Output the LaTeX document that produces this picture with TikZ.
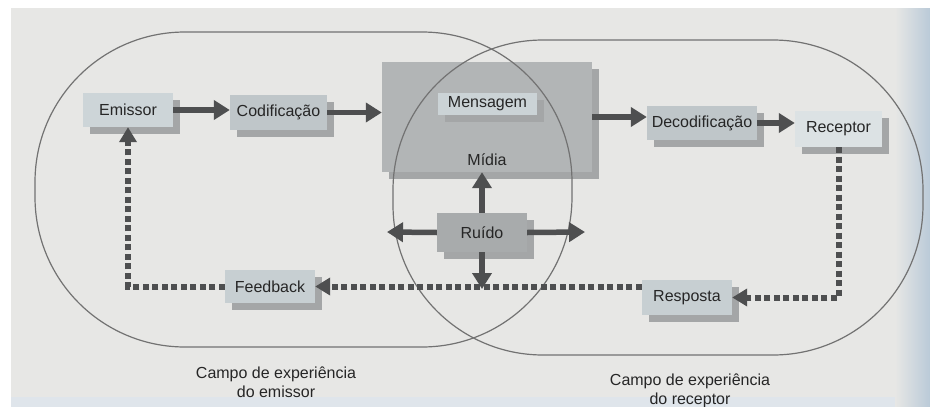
\documentclass[tikz,border=0pt]{standalone}
\usepackage{fontspec}
\setmainfont{Liberation Sans}
\usetikzlibrary{arrows.meta,shadows,positioning}

\definecolor{fundo}{HTML}{E7E7E5}
\definecolor{azulado}{HTML}{BACAD8}
\definecolor{rodape}{HTML}{DFE5EB}
\definecolor{sombra}{HTML}{A4A6A7}
\definecolor{seta}{HTML}{4E4F50}
\definecolor{contorno}{HTML}{727272}
\definecolor{claro}{HTML}{CDD5D8}
\definecolor{medio}{HTML}{BFC6C9}
\definecolor{midiacor}{HTML}{B2B5B6}
\definecolor{ruidocor}{HTML}{A8ABAC}

\tikzset{
  bloco/.style={fill=#1, inner sep=0pt, text=black!85,
    drop shadow={opacity=1, fill=sombra, shadow xshift=7pt, shadow yshift=-7pt}},
  fluxo/.style={draw=seta, line width=5.5pt, -{Triangle[length=16pt,width=19pt]}},
  retorno/.style={draw=seta, line width=6pt, dash pattern=on 6pt off 3.5pt,
    -{Triangle[length=15pt,width=17pt]}},
  campo/.style={draw=contorno, line width=1.2pt, rounded corners=150pt},
}

\begin{document}
\begin{tikzpicture}[x=10pt, y=-10pt, font=\fontsize{16}{19}\selectfont]
    \useasboundingbox (0,0) rectangle (93,40.7);

    % Fundo
    \fill[white] (0,0) rectangle (93,40.7);
    \fill[rodape] (1.1,0.8) rectangle (93,40.7);
    \fill[fundo] (1.1,0.8) rectangle (89.5,39.7);
    \shade[left color=fundo, right color=azulado] (89.5,0.8) rectangle (93,40.7);

    % Blocos
    \node[bloco=claro, minimum width=90pt, minimum height=34pt] (emissor) at (12.8,11.0) {Emissor};
    \node[bloco=medio, minimum width=97pt, minimum height=35pt] (codif) at (27.85,11.25) {Codificação};
    \node[bloco=midiacor, minimum width=210pt, minimum height=110pt] (midia) at (48.7,11.7) {};
    \node[above=3pt of midia.south, text=black!85] (midiatxt) {Mídia};
    \node[bloco=claro!85!medio, minimum width=99pt, minimum height=22pt] (mensagem) at (48.75,10.4) {Mensagem};
    \node[bloco=ruidocor, minimum width=90pt, minimum height=39pt] (ruido) at (48.2,23.25) {Ruído};
    \node[bloco=medio, minimum width=110pt, minimum height=34pt] (decod) at (70.2,12.3) {Decodificação};
    \node[bloco=claro!70!white, minimum width=87pt, minimum height=36pt] (receptor) at (83.85,12.9) {Receptor};
    \node[bloco=claro!60!medio, minimum width=90pt, minimum height=33pt] (feedback) at (27,28.65) {Feedback};
    \node[bloco=claro!60!medio, minimum width=90pt, minimum height=35pt] (resposta) at (68.7,29.75) {Resposta};

    % Campos de experiencia
    \draw[campo] (3.5,3.2) rectangle (57.2,34.7);
    \draw[campo] (39.3,4.0) rectangle (92.3,35.5);
    \node[align=center, text=black!85] (campoE) at (27.6,38.2) {Campo de experiência\\do emissor};
    \node[align=center, text=black!85] (campoR) at (69.0,39.1) {Campo de experiência\\do receptor};

    % Fluxo da mensagem
    \draw[fluxo] (emissor.east) -- (emissor.east -| codif.west);
    \draw[fluxo] (codif.east) -- (codif.east -| midia.west);
    \draw[fluxo] (midia.east) -- (midia.east -| decod.west);
    \draw[fluxo] (decod.east) -- (decod.east -| receptor.west);

    % Ruido
    \coordinate (ruidoO) at (38.7,23.2);
    \coordinate (ruidoL) at (58.5,23.2);
    \coordinate (ruidoS) at (48.2,28.9);
    \draw[fluxo] (ruido.north) -- (ruido.north |- midia.south);
    \draw[fluxo] (ruido.west) -- (ruidoO);
    \draw[fluxo] (ruido.east) -- (ruidoL);
    \draw[fluxo] (ruido.south) -- (ruidoS);

    % Retorno
    \draw[retorno] (receptor.south) |- (resposta.east);
    \draw[retorno] (resposta.west |- feedback.east) -- (feedback.east);
    \draw[retorno] (feedback.west) -| (emissor.south);
\end{tikzpicture}
\end{document}
